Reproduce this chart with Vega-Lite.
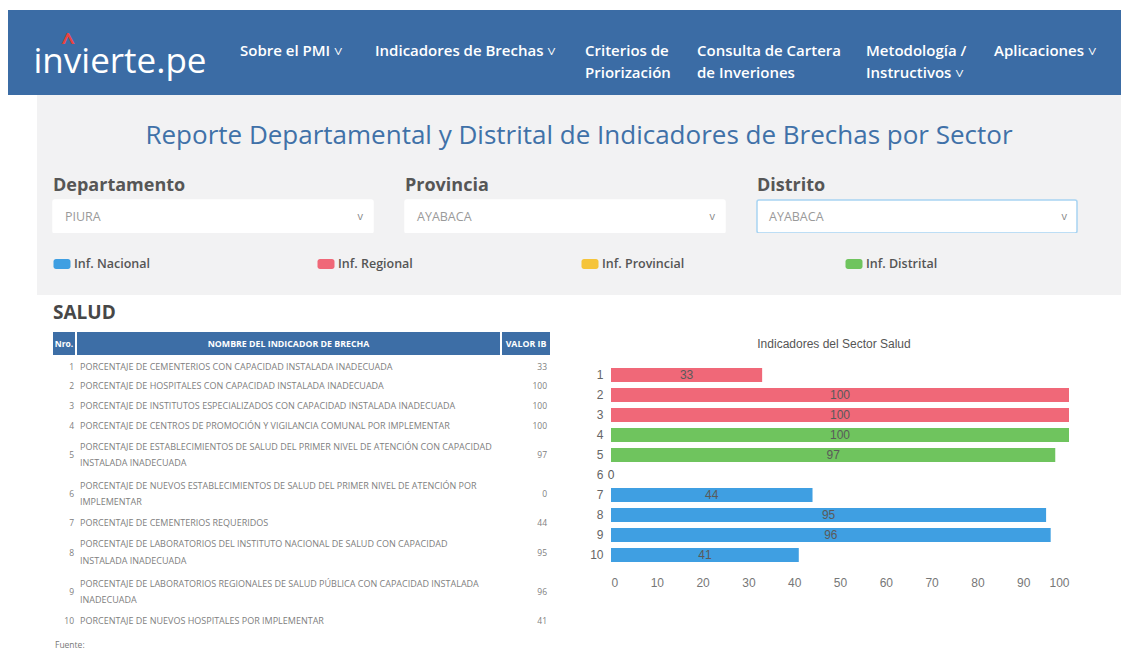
{
  "$schema": "https://vega.github.io/schema/vega-lite/v6.json",
  "background": "white",
  "padding": {"left": 8, "top": 10, "right": 0, "bottom": 0},
  "spacing": 0,
  "config": {"view": {"stroke": null}, "concat": {"spacing": 0}},
  "datasets": {
    "salud": [
      {"nro": 1, "indicador": "PORCENTAJE DE CEMENTERIOS CON CAPACIDAD INSTALADA INADECUADA", "valor": 33, "tipo": "Inf. Regional"},
      {"nro": 2, "indicador": "PORCENTAJE DE HOSPITALES CON CAPACIDAD INSTALADA INADECUADA", "valor": 100, "tipo": "Inf. Regional"},
      {"nro": 3, "indicador": "PORCENTAJE DE INSTITUTOS ESPECIALIZADOS CON CAPACIDAD INSTALADA INADECUADA", "valor": 100, "tipo": "Inf. Regional"},
      {"nro": 4, "indicador": "PORCENTAJE DE CENTROS DE PROMOCIÓN Y VIGILANCIA COMUNAL POR IMPLEMENTAR", "valor": 100, "tipo": "Inf. Distrital"},
      {"nro": 5, "indicador": "PORCENTAJE DE ESTABLECIMIENTOS DE SALUD DEL PRIMER NIVEL DE ATENCIÓN CON CAPACIDAD\nINSTALADA INADECUADA", "valor": 97, "tipo": "Inf. Distrital"},
      {"nro": 6, "indicador": "PORCENTAJE DE NUEVOS ESTABLECIMIENTOS DE SALUD DEL PRIMER NIVEL DE ATENCIÓN POR\nIMPLEMENTAR", "valor": 0, "tipo": "Inf. Nacional"},
      {"nro": 7, "indicador": "PORCENTAJE DE CEMENTERIOS REQUERIDOS", "valor": 44, "tipo": "Inf. Nacional"},
      {"nro": 8, "indicador": "PORCENTAJE DE LABORATORIOS DEL INSTITUTO NACIONAL DE SALUD CON CAPACIDAD\nINSTALADA INADECUADA", "valor": 95, "tipo": "Inf. Nacional"},
      {"nro": 9, "indicador": "PORCENTAJE DE LABORATORIOS REGIONALES DE SALUD PÚBLICA CON CAPACIDAD INSTALADA\nINADECUADA", "valor": 96, "tipo": "Inf. Nacional"},
      {"nro": 10, "indicador": "PORCENTAJE DE NUEVOS HOSPITALES POR IMPLEMENTAR", "valor": 41, "tipo": "Inf. Nacional"}
    ],
    "filtros": [
      {"filtro": "Departamento", "valor": "PIURA"},
      {"filtro": "Provincia", "valor": "AYABACA"},
      {"filtro": "Distrito", "valor": "AYABACA"}
    ],
    "leyenda": [
      {"tipo": "Inf. Nacional"},
      {"tipo": "Inf. Regional"},
      {"tipo": "Inf. Provincial"},
      {"tipo": "Inf. Distrital"}
    ]
  },
  "vconcat": [
    {
      "hconcat": [
        {
          "width": 232, "height": 85,
          "view": {"fill": "#3b6ca5", "stroke": null},
          "data": {"values": [{"marca": "invierte.pe"}]},
          "layer": [
            {"mark": {"type": "text", "font": "Open Sans", "fontSize": 35, "color": "white", "baseline": "middle", "dy": 9, "dx": -4}, "encoding": {"text": {"field": "marca"}}},
            {"mark": {"type": "text", "text": "^", "font": "Open Sans", "fontSize": 24, "fontWeight": "bold", "color": "#e8433f", "dx": -56, "dy": -10}, "encoding": {}}
          ]
        },
        {
          "width": 135, "height": 85, "view": {"fill": "#3b6ca5", "stroke": null},
          "data": {"values": [{"opcion": "Sobre el PMI  ˅"}]},
          "mark": {"type": "text", "align": "left", "baseline": "top", "dx": -67.5, "dy": -9, "lineBreak": "\n", "lineHeight": 22, "fontSize": 15, "font": "Open Sans", "fontWeight": 600, "color": "white"},
          "encoding": {"text": {"field": "opcion"}}
        },
        {
          "width": 210, "height": 85, "view": {"fill": "#3b6ca5", "stroke": null},
          "data": {"values": [{"opcion": "Indicadores de Brechas  ˅"}]},
          "mark": {"type": "text", "align": "left", "baseline": "top", "dx": -105, "dy": -9, "lineBreak": "\n", "lineHeight": 22, "fontSize": 15, "font": "Open Sans", "fontWeight": 600, "color": "white"},
          "encoding": {"text": {"field": "opcion"}}
        },
        {
          "width": 112, "height": 85, "view": {"fill": "#3b6ca5", "stroke": null},
          "data": {"values": [{"opcion": "Criterios de\nPriorización"}]},
          "mark": {"type": "text", "align": "left", "baseline": "top", "dx": -56, "dy": -9, "lineBreak": "\n", "lineHeight": 22, "fontSize": 15, "font": "Open Sans", "fontWeight": 600, "color": "white"},
          "encoding": {"text": {"field": "opcion"}}
        },
        {
          "width": 169, "height": 85, "view": {"fill": "#3b6ca5", "stroke": null},
          "data": {"values": [{"opcion": "Consulta de Cartera\nde Inveriones"}]},
          "mark": {"type": "text", "align": "left", "baseline": "top", "dx": -84.5, "dy": -9, "lineBreak": "\n", "lineHeight": 22, "fontSize": 15, "font": "Open Sans", "fontWeight": 600, "color": "white"},
          "encoding": {"text": {"field": "opcion"}}
        },
        {
          "width": 128, "height": 85, "view": {"fill": "#3b6ca5", "stroke": null},
          "data": {"values": [{"opcion": "Metodología /\nInstructivos  ˅"}]},
          "mark": {"type": "text", "align": "left", "baseline": "top", "dx": -64, "dy": -9, "lineBreak": "\n", "lineHeight": 22, "fontSize": 15, "font": "Open Sans", "fontWeight": 600, "color": "white"},
          "encoding": {"text": {"field": "opcion"}}
        },
        {
          "width": 127, "height": 85, "view": {"fill": "#3b6ca5", "stroke": null},
          "data": {"values": [{"opcion": "Aplicaciones  ˅"}]},
          "mark": {"type": "text", "align": "left", "baseline": "top", "dx": -63.5, "dy": -9, "lineBreak": "\n", "lineHeight": 22, "fontSize": 15, "font": "Open Sans", "fontWeight": 600, "color": "white"},
          "encoding": {"text": {"field": "opcion"}}
        }
      ],
      "spacing": 0, "bounds": "flush"
    },
    {
      "hconcat": [
        {"width": 29, "height": 200, "data": {"values": [{}]}, "mark": {"type": "text", "text": ""}},
        {
          "vconcat": [
            {
              "width": 1084, "height": 105,
              "view": {"fill": "#f2f2f3", "stroke": null},
              "data": {"values": [{"titulo": "Reporte Departamental y Distrital de Indicadores de Brechas por Sector"}]},
              "mark": {"type": "text", "font": "Open Sans", "fontSize": 26, "color": "#4071a8", "baseline": "middle", "dy": -12},
              "encoding": {"text": {"field": "titulo"}}
            },
            {
              "width": 1084, "height": 33,
              "view": {"fill": "#f2f2f3", "stroke": null},
              "data": {"name": "filtros"},
              "layer": [
                {
                  "mark": {"type": "bar", "color": "white", "cornerRadius": 2, "strokeWidth": 1.5},
                  "encoding": {
                    "x": {"field": "filtro", "type": "nominal", "sort": null, "scale": {"type": "band", "range": [16, 1040], "paddingInner": 0.0909, "paddingOuter": 0}, "axis": null},
                    "stroke": {"condition": {"test": "datum.filtro === 'Distrito'", "value": "#a8d4f2"}, "value": "white"}
                  }
                },
                {
                  "mark": {"type": "text", "align": "left", "baseline": "middle", "dx": 12, "fontSize": 12.5, "font": "Open Sans", "color": "#9a9a9a"},
                  "encoding": {
                    "x": {"field": "filtro", "type": "nominal", "sort": null, "bandPosition": 0, "axis": null},
                    "text": {"field": "valor"}
                  }
                },
                {
                  "mark": {"type": "text", "text": "v", "align": "right", "baseline": "middle", "dx": -10, "fontSize": 11, "font": "Open Sans", "color": "#888888"},
                  "encoding": {
                    "x": {"field": "filtro", "type": "nominal", "sort": null, "bandPosition": 1, "axis": null}
                  }
                },
                {
                  "mark": {"type": "text", "align": "left", "baseline": "middle", "dy": -31, "fontSize": 18, "fontWeight": "bold", "font": "Open Sans", "color": "#565656"},
                  "encoding": {
                    "x": {"field": "filtro", "type": "nominal", "sort": null, "bandPosition": 0, "axis": null},
                    "text": {"field": "filtro"}
                  }
                }
              ]
            },
            {
              "width": 1084, "height": 62,
              "view": {"fill": "#f2f2f3", "stroke": null},
              "data": {"name": "leyenda"},
              "layer": [
                {
                  "mark": {"type": "point", "filled": true, "opacity": 1, "size": 400, "xOffset": 9, "shape": "M-0.6,-0.5H0.6A0.25,0.25 0 0 1 0.85,-0.25V0.25A0.25,0.25 0 0 1 0.6,0.5H-0.6A0.25,0.25 0 0 1 -0.85,0.25V-0.25A0.25,0.25 0 0 1 -0.6,-0.5Z"},
                  "encoding": {
                    "x": {"field": "tipo", "type": "nominal", "sort": null, "bandPosition": 0, "scale": {"type": "band", "range": [16, 1072], "paddingInner": 0, "paddingOuter": 0}, "axis": null},
                    "color": {"field": "tipo", "type": "nominal", "scale": {"domain": ["Inf. Nacional", "Inf. Regional", "Inf. Provincial", "Inf. Distrital"], "range": ["#3f9fe2", "#f06878", "#f5c43a", "#6fc45e"]}, "legend": null}
                  }
                },
                {
                  "mark": {"type": "text", "align": "left", "baseline": "middle", "dx": 21, "fontSize": 12.5, "fontWeight": 600, "font": "Open Sans", "color": "#555555"},
                  "encoding": {
                    "x": {"field": "tipo", "type": "nominal", "sort": null, "bandPosition": 0, "axis": null},
                    "text": {"field": "tipo"}
                  }
                }
              ]
            }
          ],
          "spacing": 0, "bounds": "flush"
        }
      ],
      "spacing": 0
    },
    {
      "hconcat": [
        {"width": 45, "height": 20, "data": {"values": [{}]}, "mark": {"type": "text", "text": ""}},
        {
          "vconcat": [
            {
              "width": 497, "height": 35,
              "data": {"values": [{"seccion": "SALUD"}]},
              "mark": {"type": "text", "align": "left", "baseline": "middle", "dx": -248.5, "fontSize": 19, "fontWeight": "bold", "color": "#474747", "font": "Open Sans"},
              "encoding": {"text": {"field": "seccion"}}
            },
            {
              "hconcat": [
                {
                  "width": 22, "height": 23,
                  "view": {"fill": "#3d6ea6", "stroke": null},
                  "data": {"values": [{"h": "Nro."}]},
                  "mark": {"type": "text", "fontSize": 8.5, "fontWeight": "bold", "color": "white", "font": "Open Sans", "baseline": "middle"},
                  "encoding": {"text": {"field": "h"}}
                },
                {
                  "width": 423, "height": 23,
                  "view": {"fill": "#3d6ea6", "stroke": null},
                  "data": {"values": [{"h": "NOMBRE DEL INDICADOR DE BRECHA"}]},
                  "mark": {"type": "text", "fontSize": 8.8, "fontWeight": "bold", "color": "white", "font": "Open Sans", "baseline": "middle"},
                  "encoding": {"text": {"field": "h"}}
                },
                {
                  "width": 48, "height": 23,
                  "view": {"fill": "#3d6ea6", "stroke": null},
                  "data": {"values": [{"h": "VALOR IB"}]},
                  "mark": {"type": "text", "fontSize": 8.8, "fontWeight": "bold", "color": "white", "font": "Open Sans", "baseline": "middle"},
                  "encoding": {"text": {"field": "h"}}
                }
              ],
              "spacing": 2, "bounds": "flush"
            },
            {
              "hconcat": [
                {
                  "width": 22, "height": 274,
                  "title": {"text": "Fuente:", "anchor": "start", "orient": "bottom", "offset": 10, "fontSize": 8.5, "fontWeight": "normal", "color": "#777777", "font": "Open Sans", "dx": 2},
                  "data": {"name": "salud"},
                  "transform": [
                    {"calculate": "length(split(datum.indicador, '\\n'))", "as": "lineas"},
                    {"window": [{"op": "sum", "field": "lineas", "as": "acum"}], "sort": [{"field": "nro"}], "frame": [null, 0]},
                    {"calculate": "datum.acum - datum.lineas / 2", "as": "pos"}
                  ],
                  "mark": {"type": "text", "align": "right", "baseline": "middle", "dx": 10, "fontSize": 8.5, "font": "Open Sans", "color": "#808080"},
                  "encoding": {
                    "y": {"field": "pos", "type": "quantitative", "scale": {"domain": [0, 14], "reverse": true, "nice": false, "zero": false}, "axis": null},
                    "text": {"field": "nro"}
                  }
                },
                {
                  "width": 423, "height": 274,
                  "data": {"name": "salud"},
                  "transform": [
                    {"calculate": "length(split(datum.indicador, '\\n'))", "as": "lineas"},
                    {"window": [{"op": "sum", "field": "lineas", "as": "acum"}], "sort": [{"field": "nro"}], "frame": [null, 0]},
                    {"calculate": "datum.acum - datum.lineas / 2 - (datum.lineas - 1) * 0.4215", "as": "pos"}
                  ],
                  "mark": {"type": "text", "align": "left", "baseline": "middle", "dx": -208.5, "fontSize": 9, "font": "Open Sans", "color": "#808080", "lineBreak": "\n", "lineHeight": 16.5},
                  "encoding": {
                    "y": {"field": "pos", "type": "quantitative", "scale": {"domain": [0, 14], "reverse": true, "nice": false, "zero": false}, "axis": null},
                    "text": {"field": "indicador"}
                  }
                },
                {
                  "width": 48, "height": 274,
                  "data": {"name": "salud"},
                  "transform": [
                    {"calculate": "length(split(datum.indicador, '\\n'))", "as": "lineas"},
                    {"window": [{"op": "sum", "field": "lineas", "as": "acum"}], "sort": [{"field": "nro"}], "frame": [null, 0]},
                    {"calculate": "datum.acum - datum.lineas / 2", "as": "pos"}
                  ],
                  "mark": {"type": "text", "align": "right", "baseline": "middle", "dx": 21, "fontSize": 8.5, "font": "Open Sans", "color": "#808080"},
                  "encoding": {
                    "y": {"field": "pos", "type": "quantitative", "scale": {"domain": [0, 14], "reverse": true, "nice": false, "zero": false}, "axis": null},
                    "text": {"field": "valor"}
                  }
                }
              ],
              "spacing": 2, "bounds": "flush"
            }
          ],
          "spacing": 2
        },
        {"width": 39, "height": 20, "data": {"values": [{}]}, "mark": {"type": "text", "text": ""}},
        {
          "vconcat": [
            {"width": 458, "height": 70, "data": {"values": [{}]}, "mark": {"type": "text", "text": ""}},
            {
              "width": 458, "height": 200,
              "data": {"name": "salud"},
              "title": {"text": "Indicadores del Sector Salud", "fontSize": 12, "font": "Liberation Sans", "fontWeight": "normal", "color": "#555555", "offset": 14, "dx": -6},
              "layer": [
                {
                  "mark": {"type": "bar"},
                  "encoding": {
                    "y": {"field": "nro", "type": "ordinal", "sort": "ascending", "scale": {"paddingInner": 0.3, "paddingOuter": 0.15}, "axis": {"title": null, "domain": false, "ticks": false, "labelFontSize": 12, "labelColor": "#666666", "labelFont": "Liberation Sans", "labelPadding": 8}},
                    "x": {"field": "valor", "type": "quantitative", "scale": {"domain": [0, 100], "nice": false}, "axis": {"title": null, "domain": false, "ticks": false, "grid": false, "values": [0, 10, 20, 30, 40, 50, 60, 70, 80, 90, 100], "labelFontSize": 12, "labelColor": "#777777", "labelFont": "Liberation Sans", "labelPadding": 12}},
                    "color": {"field": "tipo", "type": "nominal", "scale": {"domain": ["Inf. Nacional", "Inf. Regional", "Inf. Provincial", "Inf. Distrital"], "range": ["#3f9fe2", "#f06878", "#f5c43a", "#6fc45e"]}, "legend": null}
                  }
                },
                {
                  "transform": [{"calculate": "datum.valor / 2", "as": "centro"}],
                  "mark": {"type": "text", "fontSize": 12, "font": "Liberation Sans", "color": "#5a5a5a", "baseline": "middle"},
                  "encoding": {
                    "y": {"field": "nro", "type": "ordinal", "sort": "ascending"},
                    "x": {"field": "centro", "type": "quantitative"},
                    "text": {"field": "valor"}
                  }
                }
              ]
            }
          ],
          "spacing": 0, "bounds": "flush"
        }
      ],
      "spacing": 0
    }
  ]
}
